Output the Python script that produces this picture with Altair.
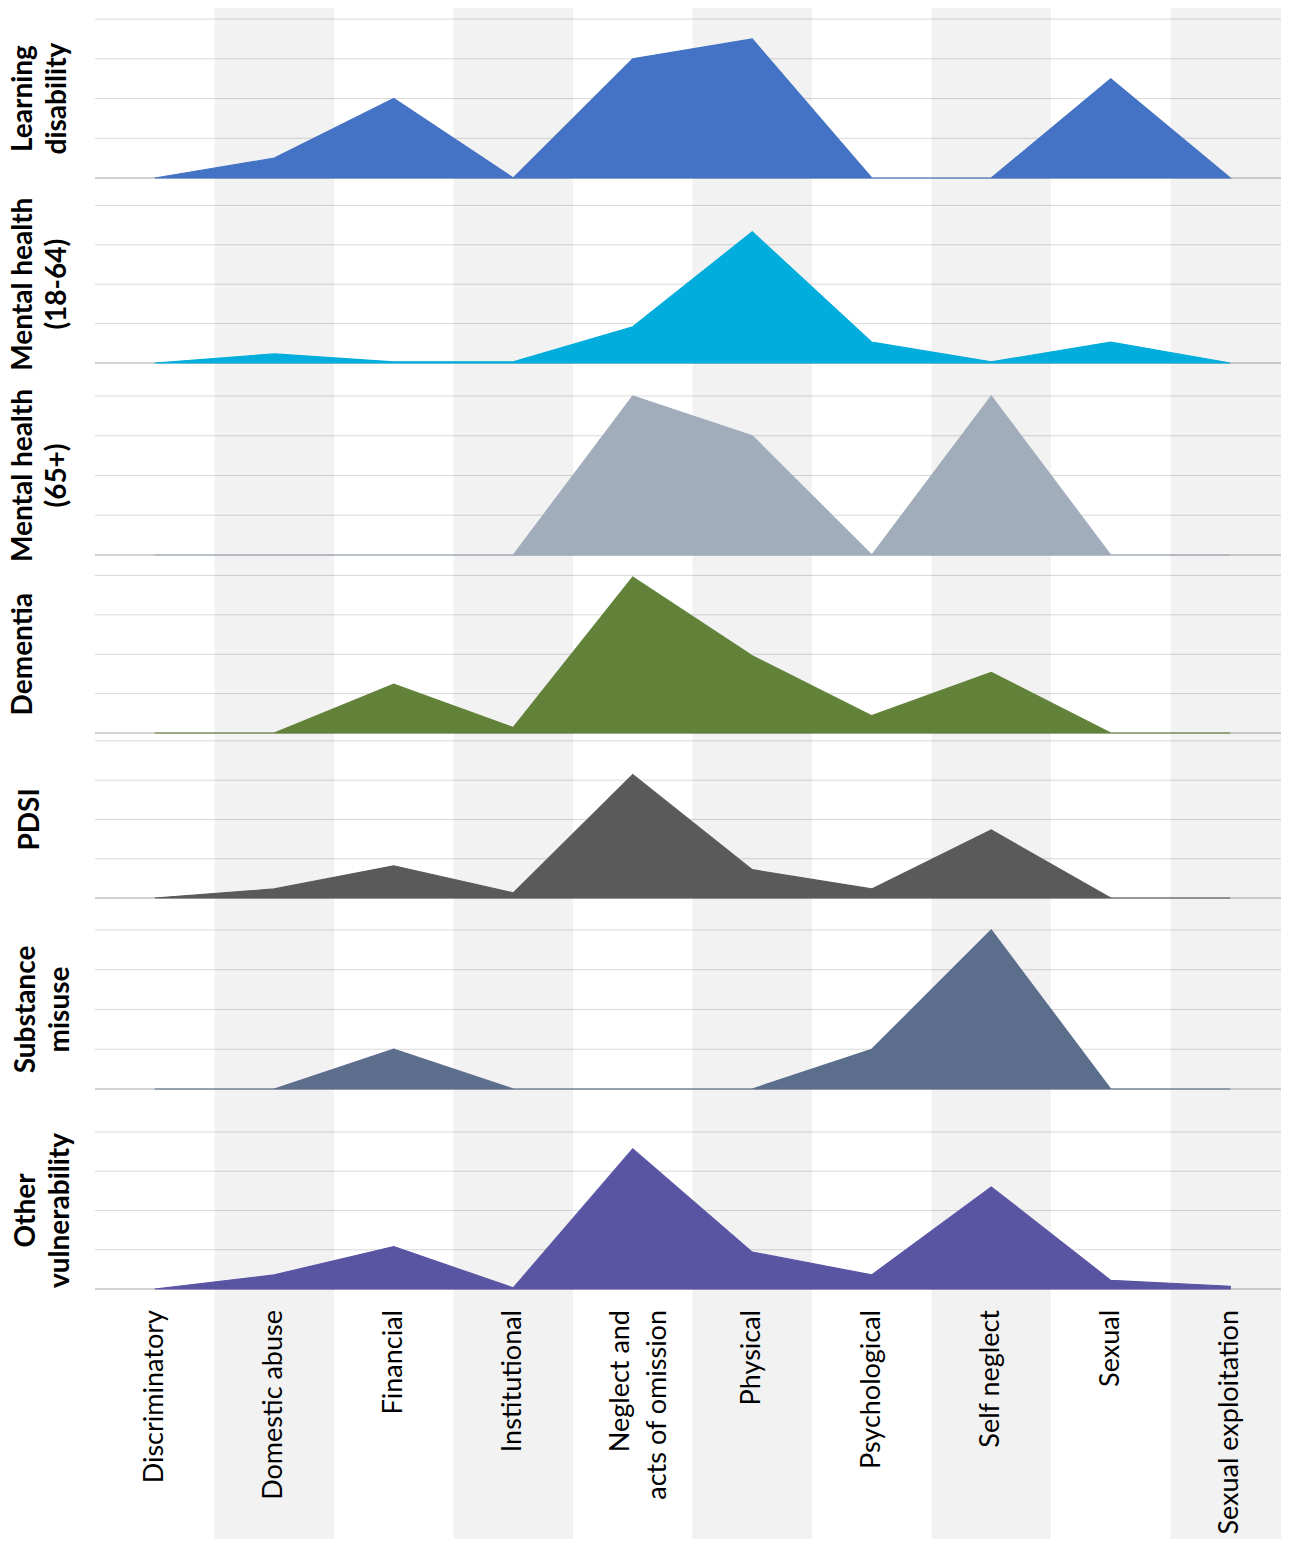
import altair as alt
import pandas as pd

categories = [
    "Discriminatory", "Domestic abuse", "Financial", "Institutional",
    "Neglect and acts of omission", "Physical", "Psychological",
    "Self neglect", "Sexual", "Sexual exploitation",
]
multi_line_labels = {"Neglect and acts of omission": ["Neglect and", "acts of omission"]}
shaded = ["Domestic abuse", "Institutional", "Physical", "Self neglect", "Sexual exploitation"]

learning_disability = [0, 5, 20, 0, 30, 35, 0, 0, 25, 0]
mental_health_18_64 = [0, 2.3, 0.3, 0.3, 9.2, 33.3, 5.3, 0.3, 5.3, 0]
mental_health_65 = [0, 0, 0, 0, 40, 30, 0, 40, 0, 0]
dementia = [0, 0, 12.4, 1.4, 39.6, 19.6, 4.4, 15.4, 0, 0]
pdsi = [0, 2.3, 8.2, 1.3, 31.4, 7.2, 2.3, 17.3, 0, 0]
substance_misuse = [0, 0, 10, 0, 0, 0, 10, 40, 0, 0]
other_vulnerability = [0, 3.6, 10.8, 0.3, 35.7, 9.4, 3.6, 26, 2.2, 0.7]

grid_values = [10, 20, 30, 40]

panels = [
    (["Learning", "disability"], learning_disability, "#4472C4", 170, 42.8, -85),
    (["Mental health", "(18-64)"], mental_health_18_64, "#00ADDC", 185, 46.95, -85),
    (["Mental health", "(65+)"], mental_health_65, "#A2ADBB", 192, 48.3, -85),
    (["Dementia"], dementia, "#62823A", 178, 45.2, -85),
    (["PDSI"], pdsi, "#5A5A5A", 165, 42.0, -78),
    (["Substance", "misuse"], substance_misuse, "#5B6E8C", 191, 48.05, -82),
    (["Other", "vulnerability"], other_vulnerability, "#5A55A3", 200, 50.96, -82),
]

W = 1186
XRANGE = 1195
FONT = "Lato"
LINE_GAP = 34
LABEL_LINE = 37

xscale = alt.Scale(type="band", domain=categories, paddingInner=0, paddingOuter=0,
                   range=[0, XRANGE])
stripe_df = pd.DataFrame({"category": shaded})

rows = []
for i, (title, vals, color, h, ymax, tx) in enumerate(panels):
    yscale = alt.Scale(domain=[0, ymax], nice=False, zero=True)
    df = pd.DataFrame({"category": categories, "value": vals})
    grid_df = pd.DataFrame({"v": grid_values})

    grid = alt.Chart(grid_df).mark_rule(color="#d9d9d9", strokeWidth=1).encode(
        y=alt.Y("v:Q", scale=yscale, axis=None)
    )
    stripes = alt.Chart(stripe_df).mark_rect(color="#000000", opacity=0.05, clip=True).encode(
        x=alt.X("category:N", scale=xscale, axis=None, sort=categories),
    )
    base = alt.Chart(pd.DataFrame({"v": [0]})).mark_rule(color="#a6a6a6", strokeWidth=1).encode(
        y=alt.Y("v:Q", scale=yscale, axis=None)
    )
    area = alt.Chart(df).mark_area(color=color, stroke=color, strokeWidth=1.2, opacity=1).encode(
        x=alt.X("category:N", scale=xscale, axis=None, sort=categories, bandPosition=0.5),
        y=alt.Y("value:Q", scale=yscale, axis=None),
    )
    layers = [grid, stripes, base, area]
    for j, line in enumerate(title):
        layers.append(
            alt.Chart(pd.DataFrame({"t": [line]})).mark_text(
                font=FONT, fontWeight="bold", fontSize=28, angle=270,
                align="center", baseline="top", color="#000000",
            ).encode(
                text="t:N",
                x=alt.value(tx + LINE_GAP * j),
                y=alt.Y(datum=20, scale=yscale, axis=None),
            )
        )
    rows.append(alt.layer(*layers).properties(width=W, height=h))

# category labels, with the background stripes continuing behind them
single = [c for c in categories if c not in multi_line_labels]
single_df = pd.DataFrame({"category": single, "label": single})
multi_df = pd.DataFrame({
    "category": list(multi_line_labels.keys()),
    "label": list(multi_line_labels.values()),
})

tail_stripes = alt.Chart(stripe_df).mark_rect(color="#000000", opacity=0.05, clip=True).encode(
    x=alt.X("category:N", scale=xscale, axis=None, sort=categories),
)
label_props = dict(font=FONT, fontSize=27, angle=270, align="right", baseline="middle",
                   lineHeight=LABEL_LINE, color="#000000")
tail_single = alt.Chart(single_df).mark_text(**label_props).encode(
    x=alt.X("category:N", scale=xscale, axis=None, sort=categories, bandPosition=0.5),
    y=alt.value(21),
    text="label",
)
tail_multi = alt.Chart(multi_df).mark_text(dy=-12, **label_props).encode(
    x=alt.X("category:N", scale=xscale, axis=None, sort=categories, bandPosition=0.5),
    y=alt.value(21),
    text="label",
)
rows.append(alt.layer(tail_stripes, tail_single, tail_multi).properties(width=W, height=250))

chart = alt.vconcat(*rows, spacing=0, bounds="flush").properties(
    padding={"left": 1, "right": 0, "top": 0, "bottom": 0},
    background="white",
).configure_view(strokeWidth=0, stroke="transparent")

chart.save("out.html", embed_options={"renderer": "svg", "actions": False})
